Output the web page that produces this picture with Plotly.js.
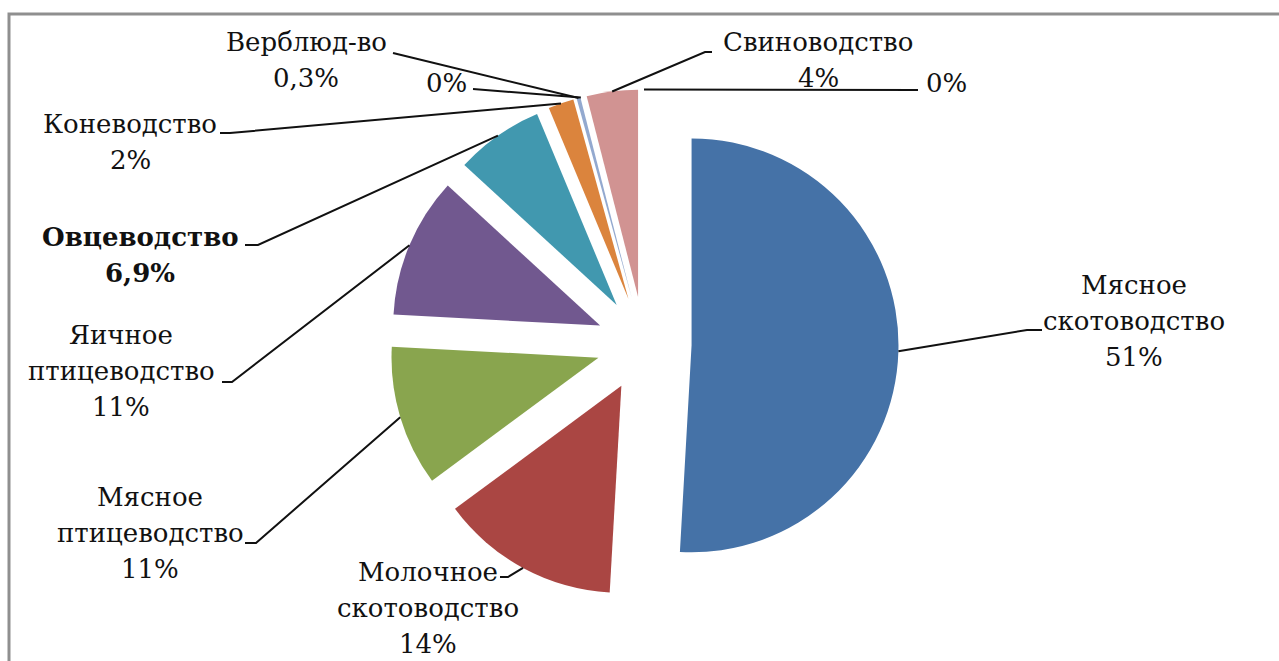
<!DOCTYPE html>
<html><head><meta charset="utf-8">
<script src="https://cdn.plot.ly/plotly-3.0.1.min.js"></script>
<style>html,body{margin:0;padding:0;background:#fff;overflow:hidden}#chart{width:1279px;height:661px}</style>
</head><body><div id="chart"></div>
<script>
// ---- data ----
const categories = ["Мясное скотоводство", "Молочное скотоводство", "Мясное птицеводство", "Яичное птицеводство", "Овцеводство", "Коневодство", "Верблюд-во", "", "Свиноводство", ""];
const values = [51, 14, 11, 11, 6.9, 2, 0.3, 0, 4, 0];
const colors = ["#4572A7", "#AA4643", "#89A54E", "#71588F", "#4198AF", "#DB843D", "#93A9CF", "#B9CD96", "#D19392", "#A99BBD"];
const boldLabel = [false, false, false, false, true, false, false, false, false, false];

// ---- layout (pixels) ----
const W = 1279, H = 661;
const PIE = {cx: 644, cy: 344, box: 509, pull: 0.23};
const LINE_GAP = 36;
const FONT_SIZE = 26;
const FONT_FAMILY = 'DejaVu Serif';
// label centre x, first-line centre y, leader points from label end to elbow
const labelPlace = [
  {x: 1134, y: 285, lead: [[1042, 330], [1027, 330]]},
  {x: 428, y: 572, lead: [[500, 577], [508, 577]]},
  {x: 150, y: 497, lead: [[245, 543], [256, 543]]},
  {x: 121, y: 335, lead: [[222, 382], [232, 382]]},
  {x: 140, y: 237, lead: [[245, 245], [258, 245]]},
  {x: 130, y: 124, lead: [[220, 133], [230, 133]]},
  {x: 306, y: 42, lead: [[393, 53]]},
  {x: 446, y: 83, lead: [[473, 89]]},
  {x: 818, y: 42, lead: [[712, 52], [705, 52]]},
  {x: 946, y: 83, lead: [[918, 90]]}
];

const X = px => px / W;
const Y = py => 1 - py / H;
const fmtPct = v => String(v).replace('.', ',') + '%';

const total = values.reduce((a, b) => a + b, 0);
const r = PIE.box / (2 + 2 * PIE.pull);
const R = r * (1 + PIE.pull);

const annotations = [];
const shapes = [];
let cum = 0;
values.forEach((v, i) => {
  const mid = (cum + v / 2) / total * 2 * Math.PI;
  cum += v;
  const ax = PIE.cx + R * Math.sin(mid);
  const ay = PIE.cy - R * Math.cos(mid);
  const lp = labelPlace[i];
  const lines = (categories[i] ? categories[i].split(' ') : []).concat([fmtPct(v)]);
  lines.forEach((t, k) => {
    annotations.push({
      xref: 'paper', yref: 'paper', x: X(lp.x), y: Y(lp.y + k * LINE_GAP),
      xanchor: 'center', yanchor: 'middle', showarrow: false,
      text: boldLabel[i] ? '<b>' + t + '</b>' : t,
      font: {family: FONT_FAMILY, size: FONT_SIZE, color: '#111'}
    });
  });
  const pts = lp.lead.concat([[ax, ay]]);
  const path = pts.map((p, k) => (k ? 'L ' : 'M ') + X(p[0]).toFixed(5) + ' ' + Y(p[1]).toFixed(5)).join(' ');
  shapes.push({type: 'path', xref: 'paper', yref: 'paper', path: path, line: {color: '#111', width: 2}});
});

// chart frame (top and left edges visible)
shapes.push({type: 'path', xref: 'paper', yref: 'paper',
  path: `M ${X(9)} ${Y(661)} L ${X(9)} ${Y(14)} L ${X(1279)} ${Y(14)}`,
  line: {color: '#8f8f8f', width: 3}});

const trace = {
  type: 'pie',
  values: values,
  labels: categories.map((c, i) => c || ('—' + i)),
  sort: false,
  direction: 'clockwise',
  rotation: 0,
  pull: values.map(() => PIE.pull),
  marker: {colors: colors, line: {width: 0}},
  textinfo: 'none',
  hoverinfo: 'none',
  showlegend: false,
  domain: {
    x: [X(PIE.cx - PIE.box / 2), X(PIE.cx + PIE.box / 2)],
    y: [Y(PIE.cy + PIE.box / 2), Y(PIE.cy - PIE.box / 2)]
  }
};

Plotly.newPlot('chart', [trace], {
  width: W, height: H,
  margin: {l: 0, r: 0, t: 0, b: 0},
  paper_bgcolor: '#fff',
  font: {family: FONT_FAMILY},
  showlegend: false,
  annotations: annotations,
  shapes: shapes
}, {staticPlot: true});
</script></body></html>
